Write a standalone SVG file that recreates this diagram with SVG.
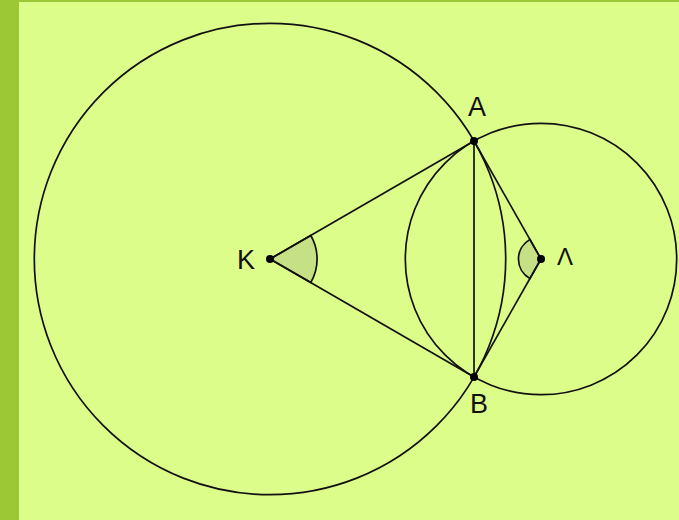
<svg xmlns="http://www.w3.org/2000/svg" width="679" height="520" viewBox="0 0 679 520">
  <style>
    .ln { fill: none; stroke: #111; stroke-width: 1.7; }
    .ang { fill: #c6e086; stroke: #111; stroke-width: 1.7; }
    .pt { fill: #000; }
    .lbl { font-family: "Liberation Sans", Arial, sans-serif; font-size: 27px; fill: #111; }
  </style>
  <rect x="0" y="0" width="679" height="520" fill="#ddfd8b"/>
  <rect x="0" y="0" width="679" height="2" fill="#9bc834"/>
  <rect x="0" y="0" width="19" height="520" fill="#9bc834"/>

  <g id="angles">
    <path class="ang" d="M270,259 L310.8,235.5 A47,47 0 0 1 310.8,282.5 Z"/>
    <path class="ang" d="M541,259 L529.9,239.4 A22.5,22.5 0 0 0 529.9,278.6 Z"/>
  </g>

  <g id="connectors">
    <circle class="ln" cx="270" cy="259" r="235.7"/>
    <circle class="ln" cx="541" cy="259" r="135.7"/>
    <line class="ln" x1="270" y1="259" x2="474" y2="141"/>
    <line class="ln" x1="270" y1="259" x2="474" y2="377"/>
    <line class="ln" x1="474" y1="141" x2="474" y2="377"/>
    <line class="ln" x1="541" y1="259" x2="474" y2="141"/>
    <line class="ln" x1="541" y1="259" x2="474" y2="377"/>
  </g>

  <g id="node-K">
    <circle class="pt" cx="270" cy="259" r="4"/>
    <text class="lbl" x="237" y="269">K</text>
  </g>
  <g id="node-A">
    <circle class="pt" cx="474" cy="141" r="4"/>
    <text class="lbl" x="468" y="116">A</text>
  </g>
  <g id="node-B">
    <circle class="pt" cx="474" cy="377" r="4"/>
    <text class="lbl" x="470" y="413">B</text>
  </g>
  <g id="node-L">
    <circle class="pt" cx="541" cy="259" r="4"/>
    <text class="lbl" x="557" y="265" style="font-size:24px">Λ</text>
  </g>
</svg>
